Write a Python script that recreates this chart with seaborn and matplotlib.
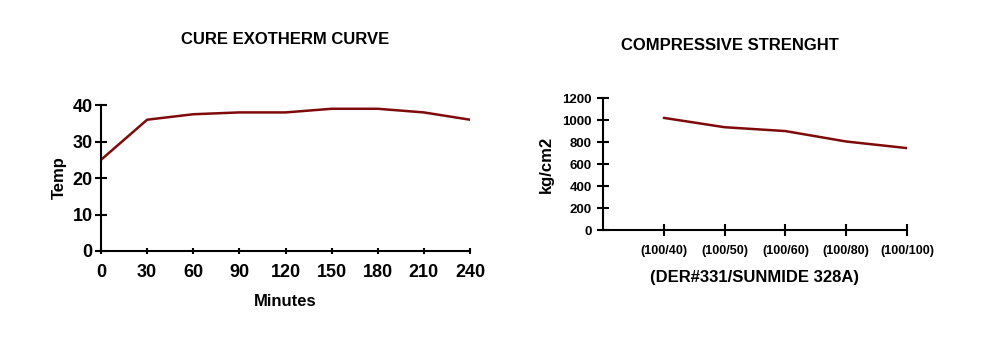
import matplotlib
matplotlib.use("Agg")
import matplotlib.pyplot as plt
import seaborn as sns
import pandas as pd

minutes = [0, 30, 60, 90, 120, 150, 180, 210, 240]
temps = [25, 36, 37.5, 38, 38, 39, 39, 38, 36]

ratios = ["(100/40)", "(100/50)", "(100/60)", "(100/80)", "(100/100)"]
strength = [1020, 935, 900, 805, 745]

sns.set_theme(style="white")
plt.rcParams['font.family'] = ['Liberation Sans', 'DejaVu Sans']
plt.rcParams['font.weight'] = 'bold'
plt.rcParams['text.color'] = 'black'
plt.rcParams['axes.labelcolor'] = 'black'
plt.rcParams['xtick.color'] = 'black'
plt.rcParams['ytick.color'] = 'black'

line_color = "#7f0a0a"

fig = plt.figure(figsize=(10, 3.4), dpi=100)
ax1 = fig.add_axes([0.101, 0.2618, 0.369, 0.429])
ax2 = fig.add_axes([0.603, 0.3235, 0.304, 0.388])

df1 = pd.DataFrame({"Minutes": minutes, "Temp": temps})
sns.lineplot(data=df1, x="Minutes", y="Temp", ax=ax1, color=line_color, linewidth=1.8)
ax1.set_xlim(0, 240)
ax1.set_ylim(0, 40)
ax1.set_xticks(minutes)
ax1.set_yticks([0, 10, 20, 30, 40])
ax1.set_xlabel("Minutes", fontsize=12, fontweight='bold', labelpad=9)
ax1.set_ylabel("Temp", fontsize=12, fontweight='bold', labelpad=4)
ax1.tick_params(axis='y', direction='inout', length=8, width=1.5, labelsize=13,
                pad=2, color='black', left=True)
ax1.tick_params(axis='x', direction='inout', length=5, width=1.5, labelsize=13,
                pad=7, color='black', bottom=True)

df2 = pd.DataFrame({"ratio": ratios, "strength": strength})
sns.lineplot(data=df2, x="ratio", y="strength", ax=ax2, color=line_color, linewidth=1.8, sort=False)
ax2.set_xlim(-1, 4)
ax2.set_ylim(0, 1200)
ax2.set_yticks([0, 200, 400, 600, 800, 1000, 1200])
ax2.set_xlabel("(DER#331/SUNMIDE 328A)", fontsize=12, fontweight='bold', labelpad=9)
ax2.set_ylabel("kg/cm2", fontsize=12, fontweight='bold', labelpad=6)
ax2.tick_params(axis='y', direction='inout', length=8, width=1.5, labelsize=9.5,
                pad=4, color='black', left=True)
ax2.tick_params(axis='x', direction='inout', length=8, width=1.5, labelsize=9,
                pad=7, color='black', bottom=True)

for ax in (ax1, ax2):
    for s in ("top", "right"):
        ax.spines[s].set_visible(False)
    for s in ("left", "bottom"):
        ax.spines[s].set_color("black")
        ax.spines[s].set_linewidth(1.5)
    for lab in ax.get_xticklabels() + ax.get_yticklabels():
        lab.set_fontweight('bold')

fig.text(0.2855, 1 - 40 / 340, "CURE EXOTHERM CURVE", ha='center', va='center', fontsize=12, fontweight='bold')
fig.text(0.730, 1 - 45 / 340, "COMPRESSIVE STRENGHT", ha='center', va='center', fontsize=12, fontweight='bold')

fig.savefig("out.png", dpi=100, facecolor='white')
